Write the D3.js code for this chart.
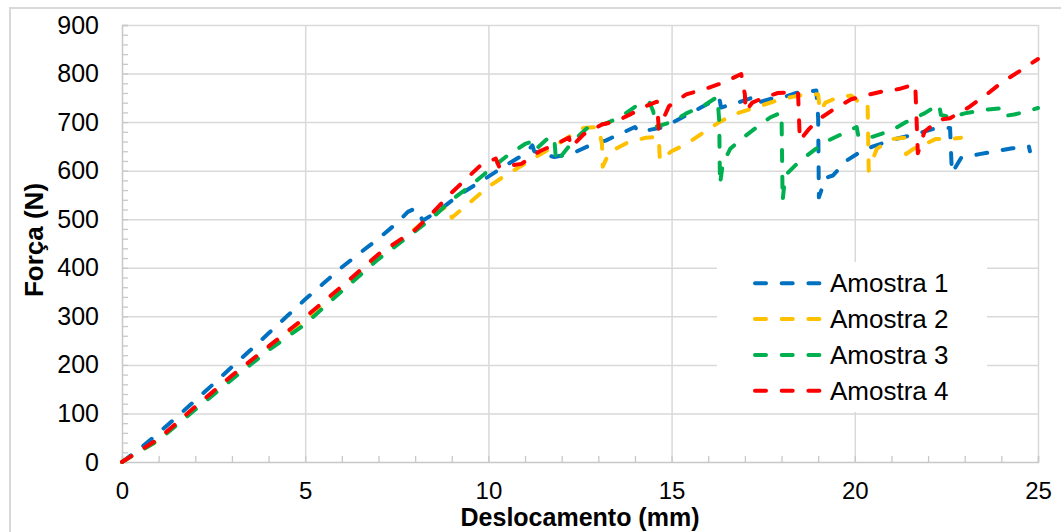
<!DOCTYPE html>
<html>
<head>
<meta charset="utf-8">
<script src="https://cdn.jsdelivr.net/npm/d3@7"></script>
<style>
  html, body { margin: 0; padding: 0; background: #fff; }
  svg { display: block; font-family: "Liberation Sans", Arial, sans-serif; }
</style>
</head>
<body>
<svg id="chart" width="1061" height="532"></svg>
<script>
// ---- Data ----
const seriesNames = ["Amostra 1", "Amostra 2", "Amostra 3", "Amostra 4"];
const seriesColors = ["#0070C0", "#FFC000", "#00B050", "#FF0000"];

const amostra1 = [[0,0],[0.5,28],[1,60],[1.5,93],[2,127],[2.5,161],[3,196],[3.5,230],[4,265],[4.5,300],[5,335],[5.5,368],[6,401],[6.5,431],[7,460],[7.5,492],[7.8,515],[8,522],[8.1,518],[8.2,497],[8.6,515],[9.2,550],[9.9,583],[10.5,612],[11,635],[11.2,652],[11.25,640],[11.5,634],[11.8,628],[12.3,636],[12.8,653],[13.2,662],[13.6,676],[14.0,690],[14.1,680],[14.4,684],[14.8,690],[15.3,710],[15.8,730],[16.3,750],[16.35,730],[16.8,740],[17.3,753],[17.35,740],[17.7,748],[18.0,750],[18.4,760],[18.95,765],[19.0,709],[19.02,545],[19.2,585],[19.4,590],[19.8,622],[20.2,641],[20.5,650],[21.1,665],[21.6,674],[22.2,687],[22.6,688],[22.65,595],[22.9,626],[23.4,634],[23.9,641],[24.3,646],[24.75,650],[24.78,640]];

const amostra2 = [[0,0],[1,45],[2,112],[3,176],[4,235],[5,292],[6,358],[7,423],[8,480],[8.5,510],[8.9,528],[9.0,503],[9.5,535],[10,567],[10.4,587],[10.9,610],[11.4,633],[11.8,650],[12.3,675],[12.6,688],[13.0,690],[13.1,655],[13.12,608],[13.3,638],[13.8,658],[14.3,668],[14.65,670],[14.68,621],[15.0,640],[15.4,655],[15.8,675],[16.3,700],[16.7,716],[17.2,728],[17.9,745],[18.3,752],[18.7,758],[19.0,757],[19.05,722],[19.2,740],[19.5,750],[19.9,755],[20.2,735],[20.35,738],[20.38,600],[20.6,645],[21.0,665],[21.35,668],[21.4,634],[21.6,645],[21.9,654],[22.2,665],[22.6,665],[22.9,668]];

const amostra3 = [[0,0],[1,45],[2,108],[3,170],[4,230],[5,284],[6,352],[7,418],[8,475],[8.5,505],[9,540],[9.5,568],[10,600],[10.5,630],[11,655],[11.3,663],[11.35,648],[11.7,672],[11.8,665],[11.85,617],[12.3,660],[12.7,688],[13.2,697],[13.6,710],[14.1,737],[14.4,740],[14.5,722],[14.55,690],[15.0,700],[15.4,718],[15.9,735],[16.25,752],[16.3,703],[16.32,572],[16.4,615],[16.6,645],[16.9,665],[17.3,688],[17.7,710],[18.0,720],[18.03,538],[18.1,590],[18.5,620],[18.9,643],[19.3,663],[19.8,681],[20.05,690],[20.1,670],[20.5,670],[21.0,683],[21.4,700],[21.9,718],[22.3,737],[22.35,715],[22.6,710],[23.0,718],[23.5,725],[23.95,728],[24.0,712],[24.3,715],[24.6,720],[25,729]];

const amostra4 = [[0,0],[1,48],[2,114],[3,178],[4,238],[5,298],[6,362],[7,428],[8,478],[8.5,515],[9,555],[9.8,612],[10.2,625],[10.3,607],[10.9,614],[11.4,640],[11.9,657],[12.2,668],[12.25,648],[12.6,675],[13.1,695],[13.5,702],[13.9,717],[14.3,733],[14.6,742],[14.65,686],[14.93,733],[15.4,757],[15.9,768],[16.4,781],[16.9,799],[17.0,757],[17.02,722],[17.2,740],[17.5,750],[17.9,760],[18.45,762],[18.5,662],[18.75,686],[19.1,710],[19.5,730],[19.9,747],[20.4,757],[20.8,764],[21.2,768],[21.65,778],[21.72,636],[21.9,680],[22.3,705],[22.6,708],[23.1,730],[23.6,757],[24.0,781],[24.5,805],[25,830]];

const xTicks = [0, 5, 10, 15, 20, 25];
const yTicks = [0, 100, 200, 300, 400, 500, 600, 700, 800, 900];
const xTitle = "Deslocamento (mm)";
const yTitle = "Força (N)";

// ---- Chart ----
const svg = d3.select("#chart");
const x = d3.scaleLinear().domain([0, 25]).range([122, 1038]);
const y = d3.scaleLinear().domain([0, 900]).range([462, 25]);

// outer chart border
svg.append("rect").attr("x", 10).attr("y", 8).attr("width", 1070).attr("height", 540)
  .attr("fill", "#fff").attr("stroke", "#d9d9d9").attr("stroke-width", 2);

const gridColor = "#d9d9d9";
// horizontal gridlines
svg.append("g").attr("transform", "translate(122,0)")
  .call(d3.axisLeft(y).tickValues(yTicks.filter(v => v > 0)).tickSize(-(1038 - 122)).tickFormat(""))
  .call(g => g.select(".domain").remove())
  .call(g => g.selectAll("line").attr("stroke", gridColor).attr("stroke-width", 1.5));
// vertical gridlines
svg.append("g").attr("transform", "translate(0,462)")
  .call(d3.axisBottom(x).tickValues(xTicks.filter(v => v > 0)).tickSize(-(462 - 25)).tickFormat(""))
  .call(g => g.select(".domain").remove())
  .call(g => g.selectAll("line").attr("stroke", gridColor).attr("stroke-width", 1.5));

// minor ticks (inside)
svg.append("g").attr("transform", "translate(122,0)")
  .call(d3.axisLeft(y).tickValues(d3.range(0, 901, 20)).tickSize(-6).tickFormat(""))
  .call(g => g.selectAll("line").attr("stroke", "#c8c8c8").attr("stroke-width", 1.3))
  .call(g => g.select(".domain").attr("stroke", "#c8c8c8").attr("stroke-width", 1.5));
svg.append("g").attr("transform", "translate(0,462)")
  .call(d3.axisBottom(x).tickValues(d3.range(0, 26, 1)).tickSize(-6).tickFormat(""))
  .call(g => g.selectAll("line").attr("stroke", "#c8c8c8").attr("stroke-width", 1.3))
  .call(g => g.select(".domain").attr("stroke", "#c8c8c8").attr("stroke-width", 1.5));

// tick labels
svg.append("g").attr("transform", "translate(122,0)")
  .call(d3.axisLeft(y).tickValues(yTicks).tickSize(0).tickPadding(23).tickFormat(d3.format("d")))
  .call(g => g.select(".domain").remove())
  .call(g => g.selectAll("text").attr("font-size", 25).attr("fill", "#000")
    .attr("font-family", "Liberation Sans, Arial, sans-serif"));
svg.append("g").attr("transform", "translate(0,462)")
  .call(d3.axisBottom(x).tickValues(xTicks).tickSize(0).tickPadding(20).tickFormat(d3.format("d")))
  .call(g => g.select(".domain").remove())
  .call(g => g.selectAll("text").attr("font-size", 24).attr("fill", "#000")
    .attr("font-family", "Liberation Sans, Arial, sans-serif"));

// axis titles
svg.append("text").attr("x", 580).attr("y", 526).attr("text-anchor", "middle")
  .attr("font-size", 25).attr("font-weight", "bold").text(xTitle);
svg.append("text").attr("transform", "translate(43,240) rotate(-90)").attr("text-anchor", "middle")
  .attr("font-size", 26).attr("font-weight", "bold").text(yTitle);

// series
const allSeries = [amostra1, amostra2, amostra3, amostra4];
const line = d3.line().x(d => x(d[0])).y(d => y(d[1]));
const dash = "11,15.7";
allSeries.forEach((s, i) => {
  svg.append("path").datum(s).attr("d", line)
    .attr("fill", "none").attr("stroke", seriesColors[i]).attr("stroke-width", 4)
    .attr("stroke-dasharray", dash).attr("stroke-linecap", "round").attr("stroke-linejoin", "round");
});

// legend
const legend = svg.append("g");
legend.append("rect").attr("x", 717).attr("y", 262).attr("width", 270).attr("height", 150).attr("fill", "#fff");
const rowY = [283.3, 319, 355, 390.7];
seriesNames.forEach((n, i) => {
  legend.append("line").attr("x1", 755).attr("x2", 820).attr("y1", rowY[i]).attr("y2", rowY[i])
    .attr("stroke", seriesColors[i]).attr("stroke-width", 4).attr("stroke-dasharray", dash)
    .attr("stroke-linecap", "round");
  legend.append("text").attr("x", 830).attr("y", rowY[i]).attr("dy", "0.35em")
    .attr("font-size", 26).attr("fill", "#000").text(n);
});
</script>
</body>
</html>
